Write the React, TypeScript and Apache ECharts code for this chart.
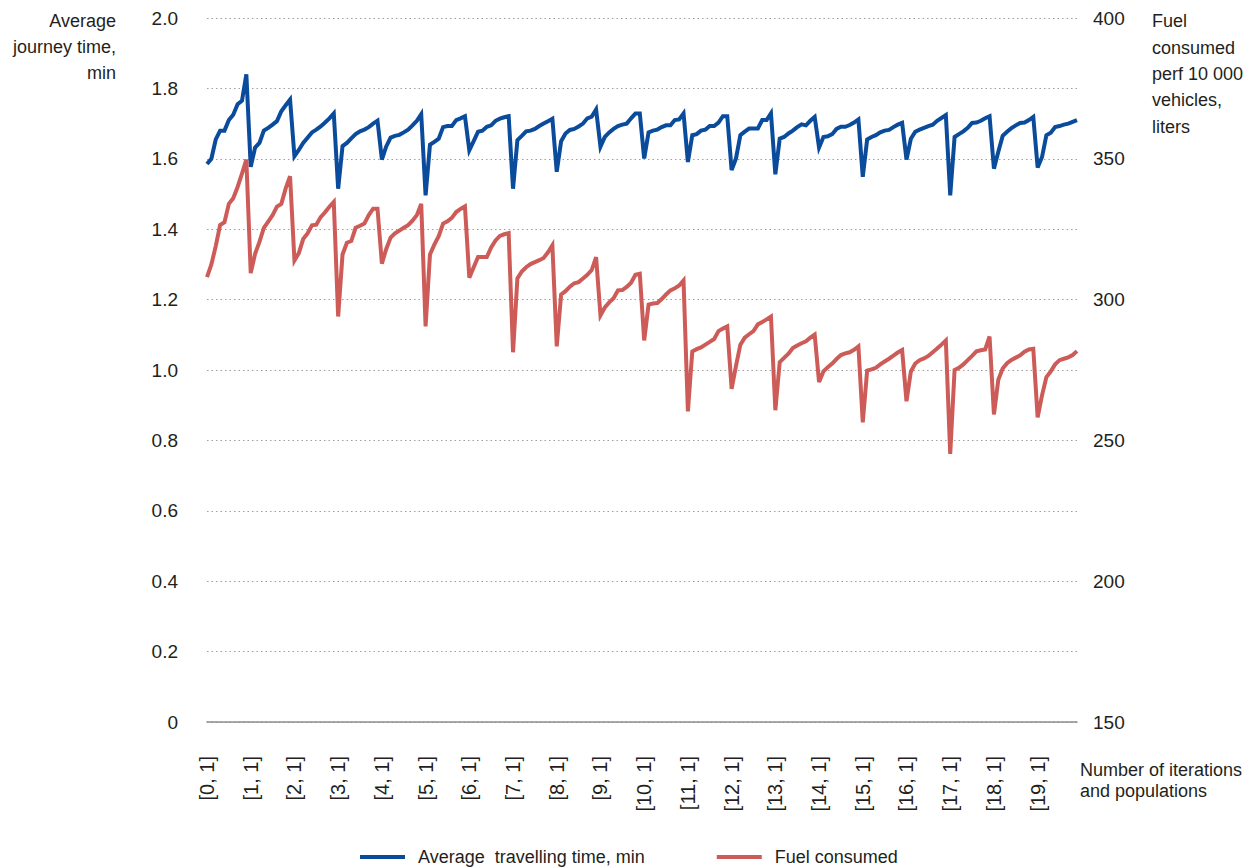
import React, { useEffect, useRef } from "react";
import * as echarts from "echarts";

// Iteration numbers and population indices that make up the category axis
const iterations = [0, 1, 2, 3, 4, 5, 6, 7, 8, 9, 10, 11, 12, 13, 14, 15, 16, 17, 18, 19];
const populations = [1, 2, 3, 4, 5, 6, 7, 8, 9, 10];

// Average travelling time, min (one value per [iteration, population])
const travelTime = [
  1.585, 1.60, 1.655, 1.68, 1.68, 1.71, 1.725, 1.755, 1.765, 1.84,
  1.577, 1.632, 1.645, 1.68, 1.688, 1.697, 1.707, 1.735, 1.752, 1.768,
  1.607, 1.625, 1.645, 1.66, 1.675, 1.683, 1.692, 1.703, 1.715, 1.729,
  1.515, 1.636, 1.645, 1.658, 1.67, 1.678, 1.683, 1.69, 1.70, 1.708,
  1.598, 1.635, 1.66, 1.665, 1.668, 1.675, 1.683, 1.695, 1.708, 1.727,
  1.496, 1.64, 1.648, 1.657, 1.69, 1.693, 1.693, 1.71, 1.715, 1.721,
  1.624, 1.65, 1.677, 1.68, 1.691, 1.695, 1.708, 1.714, 1.718, 1.721,
  1.515, 1.653, 1.665, 1.678, 1.68, 1.685, 1.693, 1.70, 1.707, 1.714,
  1.563, 1.65, 1.672, 1.682, 1.685, 1.692, 1.70, 1.715, 1.72, 1.74,
  1.634, 1.662, 1.675, 1.685, 1.693, 1.697, 1.70, 1.715, 1.729, 1.729,
  1.601, 1.675, 1.68, 1.683, 1.69, 1.695, 1.695, 1.71, 1.712, 1.729,
  1.591, 1.667, 1.67, 1.68, 1.683, 1.693, 1.693, 1.703, 1.721, 1.721,
  1.568, 1.601, 1.667, 1.677, 1.686, 1.686, 1.686, 1.71, 1.71, 1.729,
  1.556, 1.657, 1.662, 1.672, 1.68, 1.69, 1.698, 1.695, 1.708, 1.719,
  1.632, 1.662, 1.664, 1.670, 1.685, 1.691, 1.691, 1.696, 1.703, 1.712,
  1.549, 1.655, 1.662, 1.667, 1.675, 1.68, 1.682, 1.69, 1.697, 1.702,
  1.598, 1.657, 1.677, 1.683, 1.688, 1.693, 1.697, 1.708, 1.716, 1.724,
  1.496, 1.662, 1.67, 1.678, 1.688, 1.702, 1.703, 1.708, 1.715, 1.721,
  1.572, 1.62, 1.665, 1.677, 1.687, 1.695, 1.702, 1.703, 1.71, 1.719,
  1.575, 1.605, 1.667, 1.674, 1.69, 1.693, 1.697, 1.70, 1.705, 1.71,
];

// Fuel consumed per 10 000 vehicles, liters
const fuelConsumed = [
  308, 312.5, 319, 326.5, 327.5, 334, 336, 340, 344.7, 349.7,
  309.4, 316.3, 320.5, 325.5, 327.7, 330, 333, 334, 339.5, 343.8,
  313.9, 316.5, 321.5, 323.5, 326.4, 326.6, 329.3, 331, 333, 334.7,
  294, 316, 320.2, 320.8, 325.5, 326.2, 327, 330, 332.3, 332.3,
  312.8, 318, 322, 323.5, 324.5, 325.5, 326.4, 328, 330, 334,
  290.5, 316, 319.5, 322.5, 327, 327.8, 329, 331.1, 332.2, 333.1,
  307.8, 311.5, 315.1, 315.1, 315.1, 318.5, 321, 322.6, 323.2, 323.6,
  281.3, 307.5, 310, 311.5, 312.6, 313.3, 314, 314.8, 316.8, 319.3,
  283.4, 301.8, 303, 304.6, 305.8, 306.2, 307.5, 308.8, 310.5, 315.1,
  294.4, 297.2, 299, 300.5, 303.3, 303.4, 304.5, 306, 308.8, 309.2,
  285.5, 298.2, 298.6, 298.8, 300.2, 301.8, 303.3, 304, 305, 306.8,
  260.3, 281.6, 282.4, 283, 284, 285, 286, 288.8, 289.7, 290.5,
  268.3, 276.5, 284, 286.5, 287.7, 288.8, 291.2, 292, 293, 294,
  260.7, 277.8, 279.3, 280.8, 282.8, 283.7, 284.5, 285.2, 286.5, 287.6,
  270.7, 274.5, 276, 277.3, 278.9, 280.3, 280.9, 281.3, 282.2, 283.4,
  256.4, 274.8, 275.2, 275.8, 277, 278, 279, 280.1, 281.2, 282.1,
  263.9, 274.5, 277.3, 278.5, 279.1, 280, 281.3, 282.6, 284, 285.5,
  245.2, 275, 275.8, 277, 278.5, 280, 281.6, 282, 282.3, 286.9,
  259.2, 271.5, 275.5, 277.4, 278.6, 279.4, 280.2, 281.5, 282.3, 282.5,
  258.2, 266, 272.5, 274.5, 277, 278.5, 279, 279.5, 280.3, 281.7,
];

const categories: string[] = [];
iterations.forEach((it) => {
  populations.forEach((p) => categories.push(`[${it}, ${p}]`));
});

const FONT = "'Liberation Sans', Arial, sans-serif";
const TEXT = "#231f20";
const BLUE = "#0a4c9b";
const RED = "#cd5c58";

export default function App() {
  const ref = useRef<HTMLDivElement>(null);

  useEffect(() => {
    if (!ref.current) return;
    const chart = echarts.init(ref.current, undefined, { renderer: "svg" });
    chart.setOption({
      animation: false,
      backgroundColor: "#ffffff",
      textStyle: { fontFamily: FONT, color: TEXT },
      grid: { left: 207, right: 167, top: 18, bottom: 146, containLabel: false },
      legend: {
        left: 355,
        top: 843,
        icon: "rect",
        itemWidth: 45,
        itemHeight: 4,
        itemGap: 72,
        textStyle: { fontFamily: FONT, fontSize: 18, color: TEXT, padding: [0, 0, 0, 8] },
        data: ["Average  travelling time, min", "Fuel consumed"],
      },
      xAxis: {
        type: "category",
        data: categories,
        boundaryGap: false,
        axisLine: { lineStyle: { color: "#8c8c8c", width: 1.5 } },
        axisTick: { show: false },
        axisLabel: {
          interval: 9,
          rotate: 90,
          margin: 34,
          fontFamily: FONT,
          fontSize: 20,
          color: TEXT,
        },
        splitLine: { show: false },
      },
      yAxis: [
        {
          type: "value",
          min: 0,
          max: 2,
          interval: 0.2,
          axisLine: { show: false },
          axisTick: { show: false },
          axisLabel: {
            margin: 29,
            fontFamily: FONT,
            fontSize: 19,
            color: TEXT,
            formatter: (v: number) => (v === 0 ? "0" : v.toFixed(1)),
          },
          splitLine: { lineStyle: { color: "#a0a0a0", type: [1.5, 3], width: 1.2 } },
        },
        {
          type: "value",
          min: 150,
          max: 400,
          interval: 50,
          position: "right",
          axisLine: { show: false },
          axisTick: { show: false },
          axisLabel: { margin: 16, fontFamily: FONT, fontSize: 19, color: TEXT },
          splitLine: { show: false },
        },
      ],
      graphic: [
        {
          type: "text",
          x: 116,
          y: 8,
          style: {
            text: "Average\njourney time,\nmin",
            font: `18px ${FONT}`,
            fill: TEXT,
            textAlign: "right",
            textVerticalAlign: "top",
            lineHeight: 26,
          },
        },
        {
          type: "text",
          x: 1152,
          y: 8,
          style: {
            text: "Fuel\nconsumed\nperf 10 000\nvehicles,\nliters",
            font: `18px ${FONT}`,
            fill: TEXT,
            textAlign: "left",
            textVerticalAlign: "top",
            lineHeight: 26.4,
          },
        },
        {
          type: "text",
          x: 1080,
          y: 759,
          style: {
            text: "Number of iterations\nand populations",
            font: `18px ${FONT}`,
            fill: TEXT,
            textAlign: "left",
            textVerticalAlign: "top",
            lineHeight: 21,
          },
        },
      ],
      series: [
        {
          name: "Average  travelling time, min",
          type: "line",
          yAxisIndex: 0,
          data: travelTime,
          symbol: "none",
          lineStyle: { color: BLUE, width: 4, join: "miter" },
          itemStyle: { color: BLUE },
        },
        {
          name: "Fuel consumed",
          type: "line",
          yAxisIndex: 1,
          data: fuelConsumed,
          symbol: "none",
          lineStyle: { color: RED, width: 4, join: "miter" },
          itemStyle: { color: RED },
        },
      ],
    });
    return () => chart.dispose();
  }, []);

  return <div ref={ref} style={{ width: 1244, height: 868, position: "absolute", left: 0, top: 0 }} />;
}
